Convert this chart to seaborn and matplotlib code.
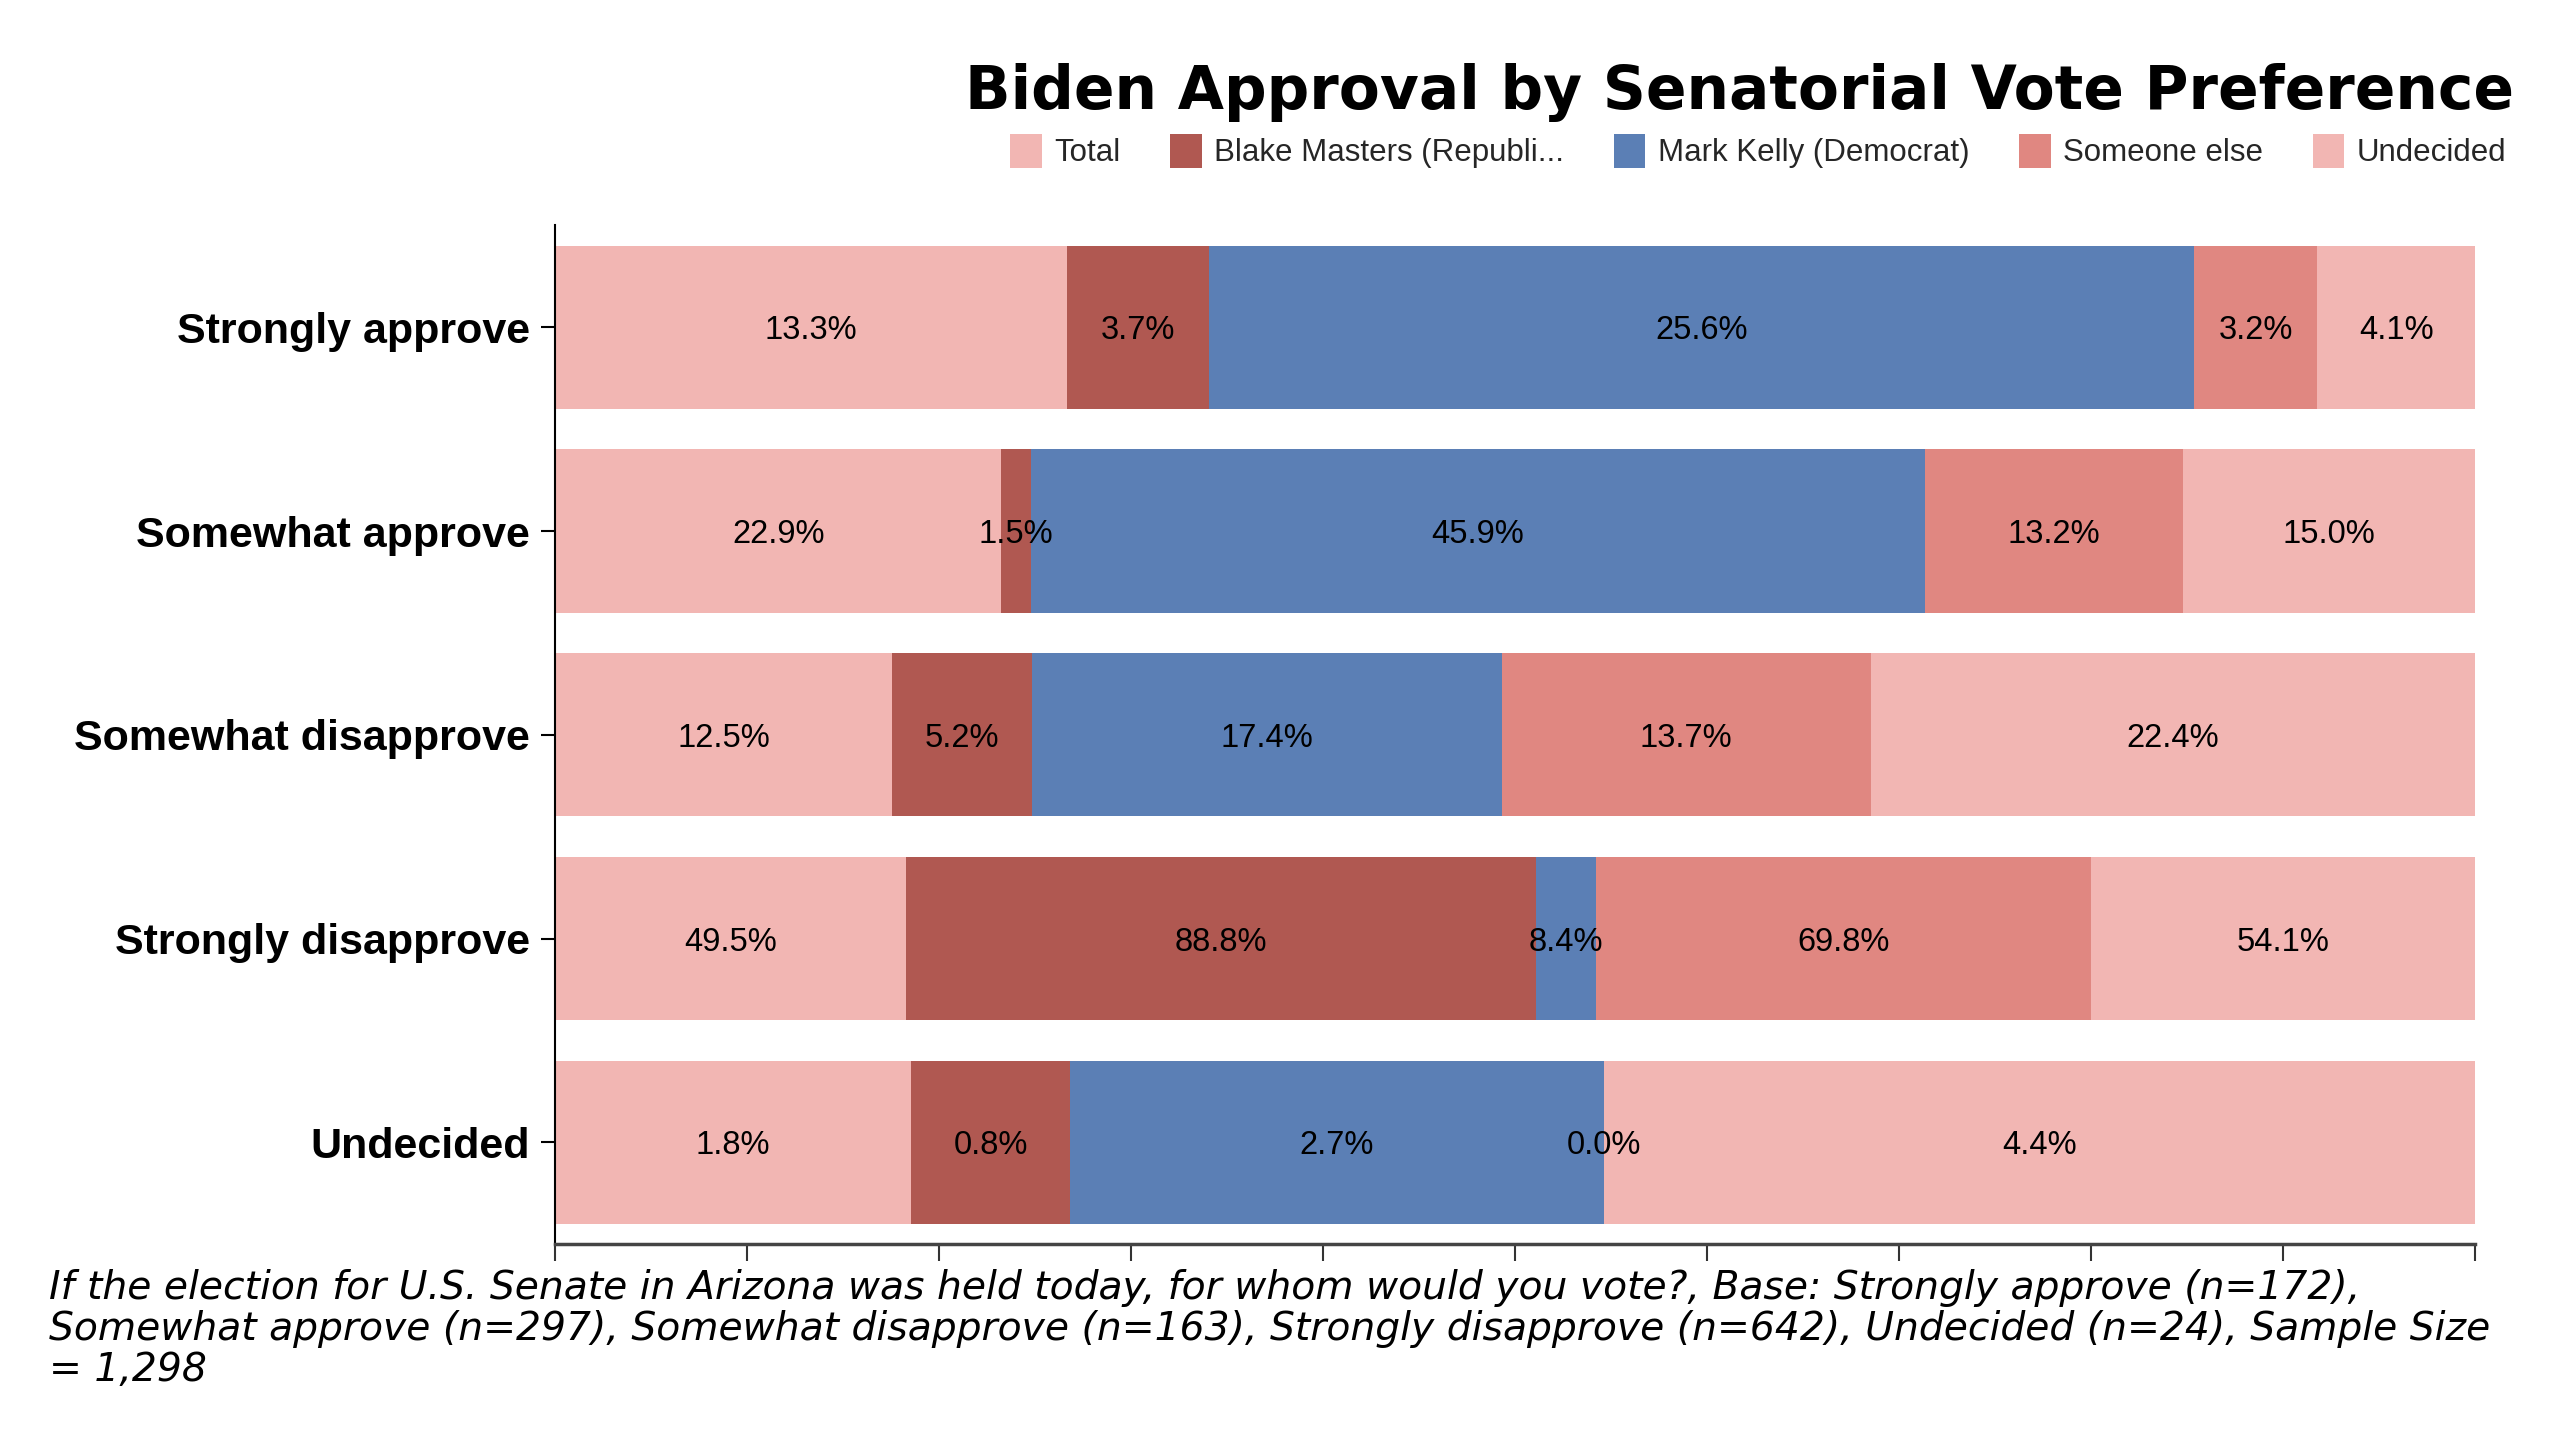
import numpy as np
import pandas as pd
import matplotlib
matplotlib.use("Agg")
import matplotlib.pyplot as plt
import seaborn as sns
from matplotlib.patches import Patch

categories = ["Strongly approve", "Somewhat approve", "Somewhat disapprove",
              "Strongly disapprove", "Undecided"]
series_names = ["Total", "Blake Masters (Republi...", "Mark Kelly (Democrat)",
                "Someone else", "Undecided"]
total = [13.3, 22.9, 12.5, 49.5, 1.8]
masters = [3.7, 1.5, 5.2, 88.8, 0.8]
kelly = [25.6, 45.9, 17.4, 8.4, 2.7]
someone_else = [3.2, 13.2, 13.7, 69.8, 0.0]
undecided = [4.1, 15.0, 22.4, 54.1, 4.4]
colors = ["#F2B6B3", "#B05851", "#5B7FB5", "#E08781", "#F2B6B3"]

sns.set_theme(style="white")
plt.rcParams["font.family"] = ["Liberation Sans", "DejaVu Sans"]

values = np.array([total, masters, kelly, someone_else, undecided])  # series x category
row_sums = values.sum(axis=0)
shares = values / row_sums
cum = np.cumsum(shares, axis=0)

fig = plt.figure(figsize=(25.6, 14.4), dpi=100)
ax = fig.add_axes([0.2168, 0.136, 0.75, 0.7075])

for i in range(len(series_names) - 1, -1, -1):
    df = pd.DataFrame({"category": categories, "value": cum[i]})
    sns.barplot(data=df, x="value", y="category", order=categories, color=colors[i],
                saturation=1, width=0.8, orient="h", ax=ax, linewidth=0)

# segment labels
for i in range(len(series_names)):
    for j in range(len(categories)):
        left = cum[i, j] - shares[i, j]
        center = left + shares[i, j] / 2
        ax.text(center, j, f"{values[i, j]:.1f}%", ha="center", va="center_baseline",
                fontsize=23.5, color="black")

ax.set_xlim(0, 1)
ax.set_ylim(4.5, -0.5)
ax.set_xlabel("")
ax.set_ylabel("")
ax.set_xticks(np.arange(0, 1.0001, 0.1))
ax.set_xticklabels([])
ax.tick_params(axis="x", bottom=True, length=12, width=1.5, color="#333333", direction="out")
ax.tick_params(axis="y", left=True, length=10, width=1.5, color="black", direction="out", pad=8)
for lbl in ax.get_yticklabels():
    lbl.set_fontsize(31)
    lbl.set_fontweight("bold")
    lbl.set_color("black")
for s in ["top", "right"]:
    ax.spines[s].set_visible(False)
ax.spines["left"].set_color("black")
ax.spines["left"].set_linewidth(1.5)
ax.spines["bottom"].set_color("#444444")
ax.spines["bottom"].set_linewidth(2.5)

fig.text(0.982, 0.936, "Biden Approval by Senatorial Vote Preference", ha="right", va="center",
         fontsize=43, fontweight="bold", family=["DejaVu Sans"], color="black")

handles = [Patch(facecolor=c, edgecolor="none") for c in colors]
fig.legend(handles, series_names, loc="center right", bbox_to_anchor=(0.984, 0.895),
           ncol=5, frameon=False, fontsize=22.5, handlelength=1.0, handleheight=1.3,
           handletextpad=0.4, columnspacing=1.6, borderaxespad=0)

footer = ("If the election for U.S. Senate in Arizona was held today, for whom would you vote?, Base: Strongly approve (n=172),\n"
          "Somewhat approve (n=297), Somewhat disapprove (n=163), Strongly disapprove (n=642), Undecided (n=24), Sample Size\n"
          "= 1,298")
fig.text(0.019, 0.119, footer, ha="left", va="top", fontsize=28.3, style="italic",
         family=["DejaVu Sans"], color="black", linespacing=1.1)

fig.savefig("out.png", dpi=100)
